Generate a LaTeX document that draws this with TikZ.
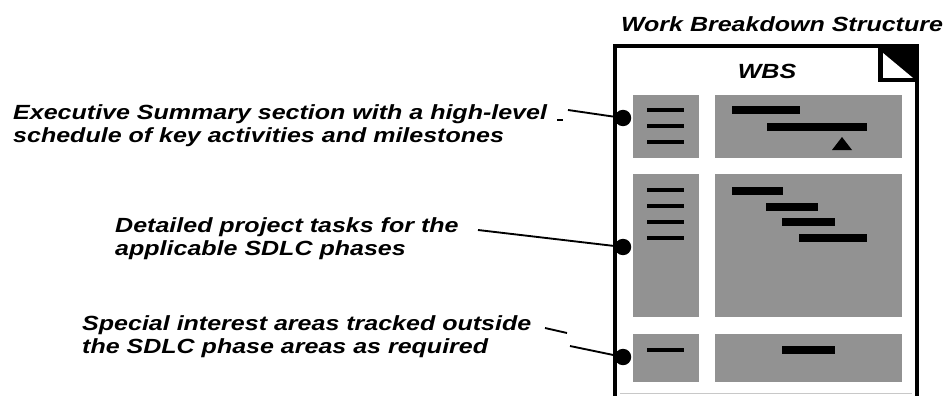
\documentclass[tikz,border=0pt]{standalone}
\usepackage{fontspec}
\setmainfont{Liberation Sans}
\newfontfamily\widefont[FakeStretch = 1.22]{Liberation Sans}
\usepackage{tikz}
\usetikzlibrary{calc}

\definecolor{boxgray}{RGB}{146,146,146}
\definecolor{edgegray}{RGB}{200,200,200}

\tikzset{
  label text/.style = {anchor = base west, align = left, inner sep = 0pt,
    font = \widefont\fontsize{17.5}{18.8}\selectfont\bfseries\itshape},
  panel/.style = {fill = boxgray},
  listline/.style = {line width = 3pt},
  bar/.style = {line width = 6.8pt},
  dot/.style = {circle, fill = black, inner sep = 0pt, minimum size = 14pt},
  leader/.style = {line width = 1.6pt}
}

\begin{document}
\begin{tikzpicture}[x = 0.03cm, y = -0.03cm]
\useasboundingbox (0,0) rectangle (948,396);

% document frame
\draw[line width = 0.5pt, color = edgegray] (620,393) -- (912,393);
\draw[line width = 2.6pt] (615,396) -- (615,46) -- (917,46) -- (917,396);
\fill (878,44) rectangle (918,82);
\fill[white] (883,53) -- (883,78) -- (913,78) -- cycle;

\draw (782,32) node[name = title, anchor = base, inner sep = 0pt,
  font = \widefont\fontsize{17.5}{18}\selectfont\bfseries\itshape]{Work Breakdown Structure};
\draw (767,79) node[name = wbs, anchor = base, inner sep = 0pt,
  font = \widefont\fontsize{17.5}{18}\selectfont\bfseries\itshape]{WBS};

% panels
\fill[panel] (633,95) rectangle (699,158);
\fill[panel] (715,95) rectangle (902,158);
\fill[panel] (633,174) rectangle (699,317);
\fill[panel] (715,174) rectangle (902,317);
\fill[panel] (633,334) rectangle (699,382);
\fill[panel] (715,334) rectangle (902,382);

% task lists
\foreach \y in {110,126,142,190,206,222,238,350}
  \draw[listline] (647,\y) -- (684,\y);

% gantt bars
\draw[bar] (732,110) -- (800,110);
\draw[bar] (767,127) -- (867,127);
\fill (842,137) -- (852,150) -- (832,150) -- cycle;
\draw[bar] (732,191) -- (783,191);
\draw[bar] (766,207) -- (818,207);
\draw[bar] (782,222) -- (835,222);
\draw[bar] (799,238) -- (867,238);
\draw[bar] (782,350) -- (835,350);

% labels (base = last line)
\draw (13,142) node[name = sumtext, label text]{Executive Summary section with a high-level\\schedule of key activities and milestones};
\draw (115,255) node[name = tasktext, label text]{Detailed project tasks for the\\applicable SDLC phases};
\draw (82,353) node[name = spectext, label text]{Special interest areas tracked outside\\the SDLC phase areas as required};

% dots and leaders
\draw (623,118) node[name = sumdot, dot]{};
\draw (623,247) node[name = taskdot, dot]{};
\draw (623,357) node[name = specdot, dot]{};

\coordinate (sumtick) at (557,120);
\coordinate (sumstart) at (568,110);
\coordinate (taskstart) at (478,230);
\coordinate (spectick) at (545,328);
\coordinate (specstart) at (570,346);

\draw[leader] (sumtick) -- +(6,0);
\draw[leader] (sumstart) -- (sumdot.center);
\draw[leader] (taskstart) -- (taskdot.center);
\draw[leader] (spectick) -- +(22,5);
\draw[leader] (specstart) -- (specdot.center);

\end{tikzpicture}
\end{document}
